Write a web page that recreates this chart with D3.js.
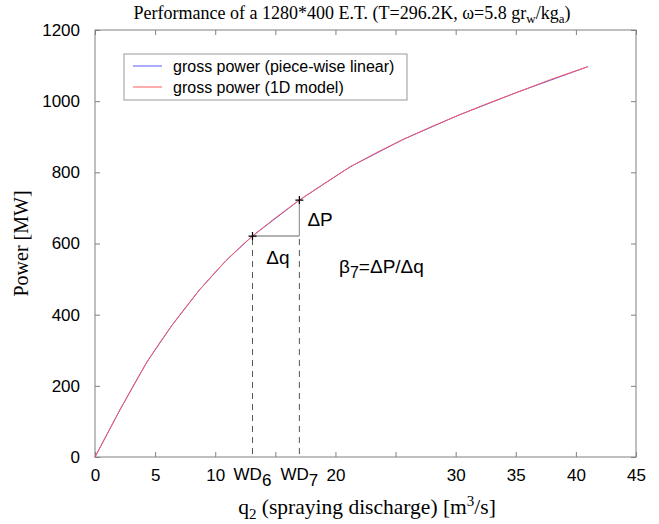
<!DOCTYPE html>
<html>
<head>
<meta charset="utf-8">
<script src="https://cdn.jsdelivr.net/npm/d3@7"></script>
<style>
  body { margin: 0; background: #fff; }
  .tick line { stroke: #808080; }
  .tick text { font-family: "Liberation Sans", Arial, sans-serif; font-size: 17px; fill: #000; }
  .serif { font-family: "Liberation Serif", "Times New Roman", serif; }
  .sans { font-family: "Liberation Sans", Arial, sans-serif; }
</style>
</head>
<body>
<div id="chart"></div>
<script>
// piece-wise linear breakpoints (WD_0 ... WD_12)
var wdQ = [0, 2.1, 4.3, 6.4, 8.7, 10.9, 13.1, 17.0, 21.2, 25.6, 30.2, 35.2, 41.0];
var wdP = [0, 134, 266, 370, 470, 552, 621, 722, 815, 892, 960, 1026, 1097];

// 1D model evaluations
var modelQ = [0, 1, 2.1, 3.2, 4.3, 5.3, 6.4, 7.5, 8.7, 9.8, 10.9, 12, 13.1, 15, 17, 19, 21.2, 23.4, 25.6, 27.9, 30.2, 32.7, 35.2, 38, 41];
var modelP = [0, 64, 134, 201, 266, 317, 370, 419, 470, 512, 552, 588, 621, 672, 722, 767, 815, 855, 892, 927, 960, 994, 1026, 1062, 1097];

var xTicks = [0, 5, 10, 15, 20, 25, 30, 35, 40, 45];
var xLabelled = [0, 5, 10, 20, 30, 35, 40, 45];
var yTicks = [0, 200, 400, 600, 800, 1000, 1200];

var W = 659, H = 524;
var plot = { left: 95, right: 636, top: 30, bottom: 457 };
var blue = "#5a5aff", red = "#ff5a5a";

var svg = d3.select("#chart").append("svg")
  .attr("width", W)
  .attr("height", H);

var x = d3.scaleLinear().domain([0, 45]).range([plot.left, plot.right]);
var y = d3.scaleLinear().domain([0, 1200]).range([plot.bottom, plot.top]);

// axes (ticks point inward)
svg.append("g")
  .attr("transform", "translate(0," + plot.bottom + ")")
  .call(d3.axisBottom(x).tickValues(xTicks).tickSize(-5).tickPadding(12)
    .tickFormat(function(d) { return xLabelled.indexOf(d) >= 0 ? d : ""; }))
  .call(function(g) { g.select(".domain").remove(); });

svg.append("g")
  .attr("transform", "translate(0," + plot.top + ")")
  .call(d3.axisTop(x).tickValues(xTicks).tickSize(-5).tickFormat(""))
  .call(function(g) { g.select(".domain").remove(); });

svg.append("g")
  .attr("transform", "translate(" + plot.left + ",0)")
  .call(d3.axisLeft(y).tickValues(yTicks).tickSize(-5).tickPadding(15).tickFormat(d3.format("d")))
  .call(function(g) { g.select(".domain").remove(); });

svg.append("g")
  .attr("transform", "translate(" + plot.right + ",0)")
  .call(d3.axisRight(y).tickValues(yTicks).tickSize(-5).tickFormat(""))
  .call(function(g) { g.select(".domain").remove(); });

svg.append("rect")
  .attr("x", plot.left).attr("y", plot.top)
  .attr("width", plot.right - plot.left).attr("height", plot.bottom - plot.top)
  .attr("fill", "none").attr("stroke", "#808080");

// construction lines for beta_7
var q6 = wdQ[6], p6 = wdP[6], q7 = wdQ[7], p7 = wdP[7];

svg.append("line")
  .attr("x1", x(q6)).attr("y1", y(p6)).attr("x2", x(q7)).attr("y2", y(p6))
  .attr("stroke", "#999").attr("stroke-width", 1.5);
svg.append("line")
  .attr("x1", x(q7)).attr("y1", y(p7)).attr("x2", x(q7)).attr("y2", y(p6))
  .attr("stroke", "#999").attr("stroke-width", 1.2);

[[q6, p6], [q7, p6]].forEach(function(d) {
  svg.append("line")
    .attr("x1", x(d[0])).attr("y1", y(d[1]) + 3).attr("x2", x(d[0])).attr("y2", plot.bottom)
    .attr("stroke", "#555").attr("stroke-dasharray", "6,5");
});

// curves
var line = d3.line().x(function(d) { return x(d[0]); }).y(function(d) { return y(d[1]); });

svg.append("path")
  .attr("d", line(d3.zip(wdQ, wdP)))
  .attr("fill", "none").attr("stroke", blue).attr("stroke-width", 1);

svg.append("path")
  .attr("d", line(d3.zip(modelQ, modelP)))
  .attr("fill", "none").attr("stroke", red).attr("stroke-width", 1);

// + markers
[[q6, p6], [q7, p7]].forEach(function(d) {
  var cx = x(d[0]), cy = y(d[1]);
  svg.append("path")
    .attr("d", "M" + (cx - 4) + "," + cy + "H" + (cx + 4) + "M" + cx + "," + (cy - 4) + "V" + (cy + 4))
    .attr("stroke", "#000").attr("stroke-width", 1.2);
});

// annotations
svg.append("text").attr("class", "sans").attr("font-size", 19)
  .attr("x", x(q7) + 8).attr("y", 226).text("\u0394P");
svg.append("text").attr("class", "sans").attr("font-size", 19)
  .attr("x", (x(q6) + x(q7)) / 2 + 2).attr("y", 264).attr("text-anchor", "middle").text("\u0394q");

var beta = svg.append("text").attr("class", "sans").attr("font-size", 19)
  .attr("x", 339).attr("y", 273);
beta.append("tspan").text("\u03b2");
beta.append("tspan").attr("dy", 5).attr("font-size", 16).text("7");
beta.append("tspan").attr("dy", -5).text("=\u0394P/\u0394q");

// WD labels on x axis
[[q6, "6"], [q7, "7"]].forEach(function(d) {
  var t = svg.append("text").attr("class", "sans").attr("font-size", 17)
    .attr("x", x(d[0])).attr("y", 480).attr("text-anchor", "middle");
  t.append("tspan").text("WD");
  t.append("tspan").attr("dy", 6).text(d[1]);
});

// legend
svg.append("rect")
  .attr("x", 124).attr("y", 54).attr("width", 283).attr("height", 46)
  .attr("fill", "#fff").attr("stroke", "#999");
var legend = [["gross power (piece-wise linear)", blue], ["gross power (1D model)", red]];
legend.forEach(function(d, i) {
  var ly = 66 + i * 21;
  svg.append("line").attr("x1", 133).attr("x2", 162).attr("y1", ly).attr("y2", ly)
    .attr("stroke", d[1]).attr("stroke-width", 1);
  svg.append("text").attr("class", "sans").attr("font-size", 16)
    .attr("x", 173).attr("y", ly + 6).text(d[0]);
});

// title
var title = svg.append("text").attr("class", "serif").attr("font-size", 18)
  .attr("x", 352).attr("y", 19).attr("text-anchor", "middle");
title.append("tspan").text("Performance of a 1280*400 E.T. (T=296.2K, \u03c9=5.8 gr");
title.append("tspan").attr("dy", 4).attr("font-size", 13).text("w");
title.append("tspan").attr("dy", -4).text("/kg");
title.append("tspan").attr("dy", 4).attr("font-size", 13).text("a");
title.append("tspan").attr("dy", -4).text(")");

// x label
var xl = svg.append("text").attr("class", "serif").attr("font-size", 21.5)
  .attr("x", 367).attr("y", 514).attr("text-anchor", "middle");
xl.append("tspan").text("q");
xl.append("tspan").attr("dy", 5).attr("font-size", 15).text("2");
xl.append("tspan").attr("dy", -5).text(" (spraying discharge) [m");
xl.append("tspan").attr("dy", -8).attr("font-size", 15).text("3");
xl.append("tspan").attr("dy", 8).text("/s]");

// y label
svg.append("text").attr("class", "serif").attr("font-size", 20)
  .attr("transform", "translate(28," + ((plot.top + plot.bottom) / 2) + ") rotate(-90)")
  .attr("text-anchor", "middle").text("Power [MW]");
</script>
</body>
</html>
